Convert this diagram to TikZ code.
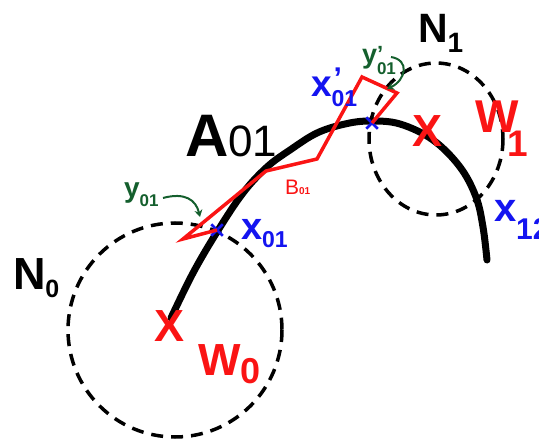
\documentclass[tikz,border=0pt]{standalone}
\usepackage{fontspec}
\setmainfont{Liberation Sans}
\usetikzlibrary{arrows.meta,shapes.misc}
\definecolor{ptred}{RGB}{250,20,20}
\definecolor{ptblue}{RGB}{20,20,240}
\definecolor{ptgreen}{RGB}{20,95,45}
\newcommand\fs[1]{\fontsize{#1}{#1}\selectfont}
\tikzset{
  nbhd/.style={draw, dash pattern=on 12pt off 8pt, line width=3.5pt},
  arcpath/.style={line width=7pt, line cap=round},
  bpath/.style={draw=ptred, line width=3.5pt, line join=miter},
  lbl/.style={anchor=base west, inner sep=0pt, outer sep=0pt, font=\bfseries},
  wlbl/.style={lbl, text=ptred},
  xlbl/.style={lbl, text=ptblue},
  ylbl/.style={lbl, text=ptgreen},
  redx/.style={inner sep=0pt, text=ptred, font=\bfseries\fs{45}},
  bx/.style={cross out, draw=ptblue, line width=2.5pt, minimum size=9pt, inner sep=0pt},
  ptr/.style={-{Stealth[length=7pt,width=8pt]}, line width=2pt, ptgreen}
}
\begin{document}
\begin{tikzpicture}[x=1pt, y=-1pt]
  \useasboundingbox (0,0) rectangle (539,441);
  % neighbourhoods
  \draw[nbhd] (175,330) circle (107);
  \draw[nbhd] (436,139) ellipse (67 and 76);
  % the arc A01
  \draw[arcpath] plot[smooth, tension=0.6] coordinates {(171,318) (193,273) (217,232)
    (243,193) (267,167) (290,150) (317,133) (345,124) (370,121) (400,124)
    (433,140) (460,167) (476,197) (483,227) (487,260)};
  % centres
  \node[redx] (w0x) at (170,326) {X};
  \node[redx] (w1x) at (428,131) {X};
  % end points
  \node[bx] (x01m) at (217,230) {};
  \node[bx] (x01pm) at (372,123) {};
  % the path B01
  \draw[bpath] (x01m.center) -- (183,239) -- (266,171) -- (317,159) -- (362,77)
    -- (397,93) -- (x01pm.center);
  % labels
  \node[lbl] (a01) at (185,157) {\fs{60}A\fs{44}\mdseries 01};
  \node[lbl] (n0) at (13,290) {\fs{45}N\raisebox{-8pt}{\fs{25}0}};
  \node[lbl] (n1) at (418,43) {\fs{41}N\raisebox{-10pt}{\fs{28}1}};
  \node[wlbl] (w0) at (198,375) {\fs{45}W\raisebox{-8pt}{\fs{36}0}};
  \node[wlbl] (w1) at (475,133) {\fs{46}W\kern-11pt\raisebox{-24pt}{\fs{37}1}};
  \node[lbl, text=ptred, font=\mdseries] (b01) at (285,195) {\fs{21}B\fs{10}\bfseries 01};
  \node[xlbl] (x01) at (241,240) {\fs{38}x\raisebox{-8pt}{\fs{23}01}};
  \node[xlbl] (x01p) at (311,97) {\fs{37}x\rlap{\raisebox{-10pt}{\fs{23}01}}\kern2pt\raisebox{8pt}{\fs{30}'}};
  \node[xlbl] (x12) at (494,222) {\fs{40}x\raisebox{-18pt}{\fs{30}12}};
  \node[ylbl] (y01) at (124,198) {\fs{28}y\raisebox{-9pt}{\fs{17}01}};
  \node[ylbl] (y01p) at (362,64) {\fs{27}y\rlap{\raisebox{-11pt}{\fs{17}01}}\raisebox{2pt}{\fs{22}'}};
  % pointers
  \coordinate (y01tip) at (200,217);
  \coordinate (y01ptip) at (387,89);
  \draw[ptr] (163,198) .. controls (185,192) and (196,200) .. (y01tip);
  \draw[ptr] (391,57) .. controls (410,60) and (406,80) .. (y01ptip);
\end{tikzpicture}
\end{document}
